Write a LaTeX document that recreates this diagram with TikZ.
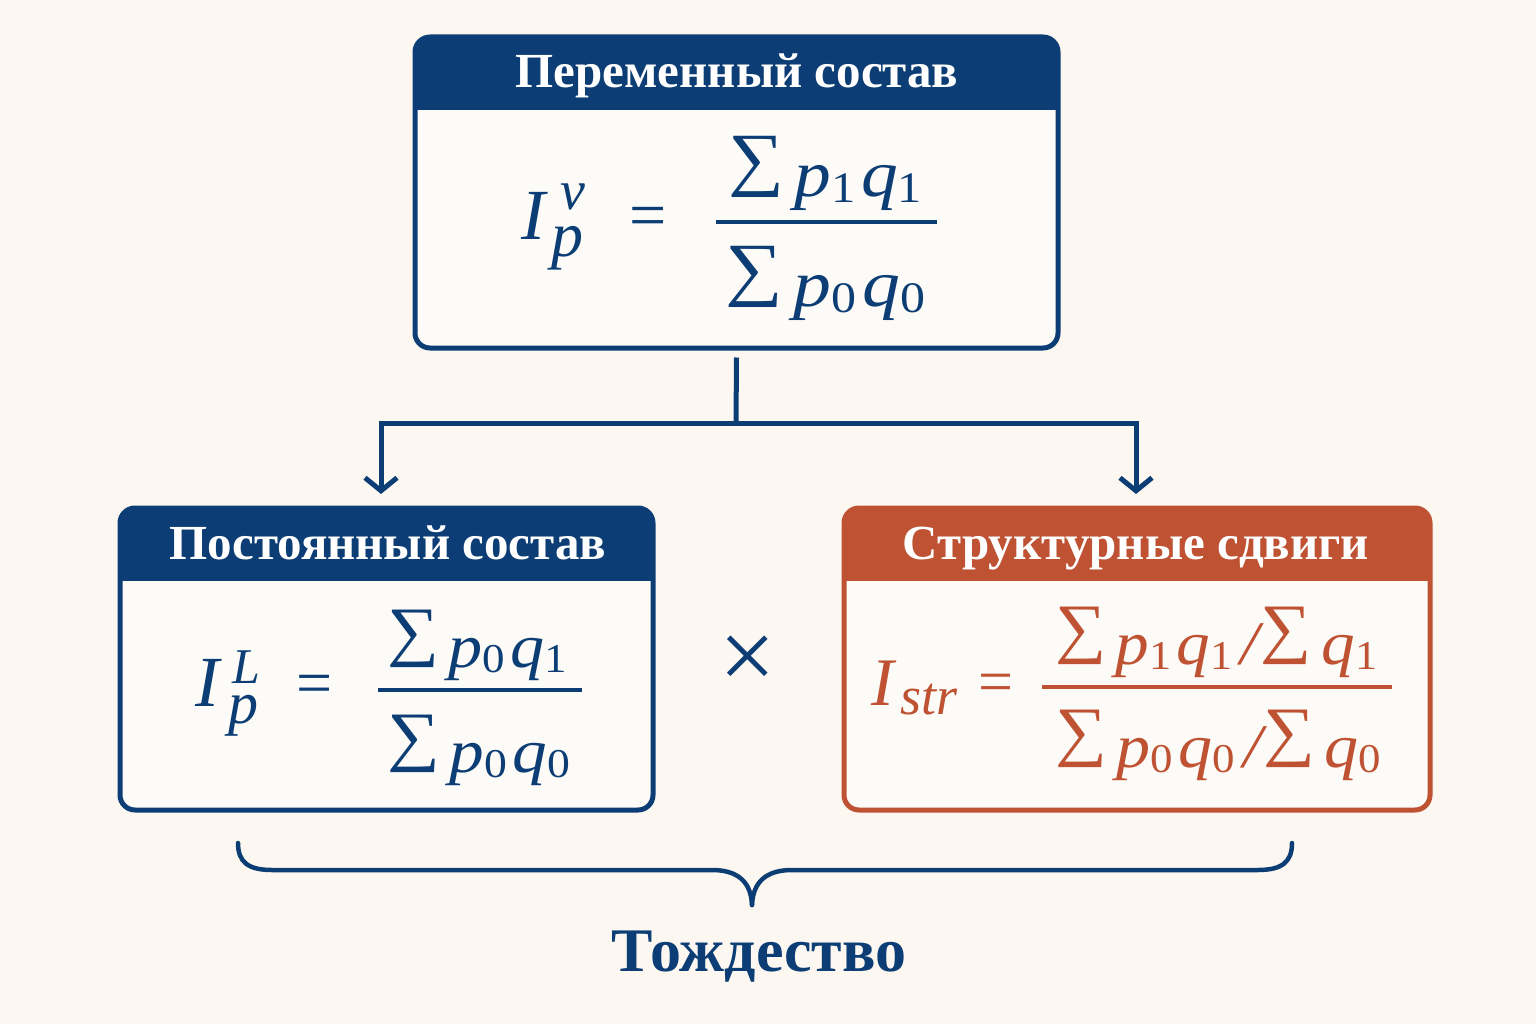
\documentclass[tikz,border=0pt]{standalone}
\usepackage{fontspec}
\usepackage{graphicx}
\setmainfont{Liberation Serif}
\usetikzlibrary{arrows.meta}
\definecolor{nblue}{RGB}{12,62,117}
\definecolor{norange}{RGB}{190,82,50}
\definecolor{bgc}{RGB}{252,248,241}
\definecolor{boxc}{RGB}{253,251,247}
\newcommand\fsz[1]{\fontsize{#1}{#1}\selectfont}
\newcommand\Sg{\scalebox{1.07}{\raisebox{0.2em}{\upshape ∑}}}
\newcommand\sbs[1]{\raisebox{-0.09em}{\scalebox{0.66}{\upshape #1}}}
\newcommand\frw[2]{\resizebox{#1}{\height}{#2}}
\tikzset{
  panel/.style={draw=#1, fill=boxc, line width=5pt, rounded corners=15pt, inner sep=0pt,
    path picture={\fill[#1, sharp corners] ([yshift=5pt]path picture bounding box.north west) rectangle ([yshift=-73pt]path picture bounding box.north east);}},
  hdr/.style={text=white, font=\fsz{49}\bfseries, anchor=base, inner sep=0pt},
  fml/.style={text=#1, font=\itshape, anchor=base west, inner sep=0pt},
  conn/.style={draw=nblue, line width=5pt},
  arr/.style={conn, -{Straight Barb[length=13pt,width=32pt,line width=5pt]}},
}
\begin{document}
\begin{tikzpicture}[x=1pt,y=-1pt]
\fill[bgc] (0,0) rectangle (1536,1024);
\useasboundingbox (0,0) rectangle (1536,1024);

% boxes
\node[panel=nblue, minimum width=643pt, minimum height=311pt] (top) at (736.5,192.5) {};
\node[panel=nblue, minimum width=533pt, minimum height=302pt] (left) at (386.5,659) {};
\node[panel=norange, minimum width=586pt, minimum height=302pt] (right) at (1137,659) {};

% headers
\node[hdr] (toph) at (737,88) {Переменный состав};
\node[hdr] (lefth) at (388,559) {Постоянный состав};
\node[hdr] (righth) at (1136,559) {Структурные сдвиги};

% top formula
\node[fml=nblue, font=\fsz{72}\itshape] (tI) at (521,240) {I};
\node[fml=nblue, font=\fsz{56}\itshape] (tv) at (560,210) {v};
\node[fml=nblue, font=\fsz{64}\itshape] (tp) at (551,257) {p};
\node[fml=nblue, font=\fsz{66}\upshape, anchor=center] (teq) at (648,222) {=};
\draw[nblue, line width=3.5pt] (716,222) -- (937,222);
\node[fml=nblue] (tnum) at (728,197) {\frw{194pt}{\fsz{66}\itshape\Sg\hspace{0.14em}p\sbs{1}\hspace{0.08em}q\sbs{1}}};
\node[fml=nblue] (tden) at (725,307) {\frw{200pt}{\fsz{66}\itshape\Sg\hspace{0.14em}p\sbs{0}\hspace{0.08em}q\sbs{0}}};

% left formula
\node[fml=nblue, font=\fsz{72}\itshape] (lI) at (195,706) {I};
\node[fml=nblue, font=\fsz{50}\itshape] (lL) at (232,683) {L};
\node[fml=nblue, font=\fsz{60}\itshape] (lp) at (228,723) {p};
\node[fml=nblue, font=\fsz{64}\upshape, anchor=center] (leq) at (315,690) {=};
\draw[nblue, line width=3.5pt] (378,690) -- (582,690);
\node[fml=nblue] (lnum) at (387,667) {\frw{180pt}{\fsz{62}\itshape\Sg\hspace{0.14em}p\sbs{0}\hspace{0.08em}q\sbs{1}}};
\node[fml=nblue] (lden) at (387,772) {\frw{183pt}{\fsz{62}\itshape\Sg\hspace{0.14em}p\sbs{0}\hspace{0.08em}q\sbs{0}}};

% times
\node[text=nblue, font=\fsz{100}, inner sep=0pt] (times) at (748,663) {×};

% right formula
\node[fml=norange, font=\fsz{68}\itshape] (rI) at (871,705) {I};
\node[fml=norange, font=\fsz{54}\itshape] (rs) at (900,714) {str};
\node[fml=norange, font=\fsz{62}\upshape, anchor=center] (req) at (996,688) {=};
\draw[norange, line width=3.5pt] (1042,687) -- (1392,687);
\node[fml=norange] (rnum) at (1055,664) {\frw{322pt}{\fsz{62}\itshape\Sg\hspace{0.14em}p\sbs{1}\hspace{0.08em}q\sbs{1}\hspace{0.12em}/\hspace{0.02em}\Sg\hspace{0.14em}q\sbs{1}}};
\node[fml=norange] (rden) at (1055,767) {\frw{326pt}{\fsz{62}\itshape\Sg\hspace{0.14em}p\sbs{0}\hspace{0.08em}q\sbs{0}\hspace{0.12em}/\hspace{0.02em}\Sg\hspace{0.14em}q\sbs{0}}};

% connectors
\coordinate (split) at (736,423);
\coordinate (la) at (381,494);
\coordinate (ra) at (1136,494);
\draw[conn] ([yshift=-7pt]top.south) -- (split);
\draw[arr] (split) -| (la);
\draw[arr] (split) -| (ra);

% brace
\coordinate (bl) at (238,843);
\coordinate (br) at (1292,843);
\coordinate (btip) at (752,905);
\draw[conn, line width=4.5pt, line cap=round] (bl) .. controls (238,862) and (248,870) .. (272,870) -- (712,870)
   .. controls (738,870) and (751,882) .. (btip);
\draw[conn, line width=4.5pt, line cap=round] (br) .. controls (1292,862) and (1282,870) .. (1258,870) -- (792,870)
   .. controls (766,870) and (753,882) .. (btip);

\node[text=nblue, font=\fsz{62}\bfseries, anchor=base, inner sep=0pt] (ident) at (759,971) {Тождество};
\end{tikzpicture}
\end{document}
